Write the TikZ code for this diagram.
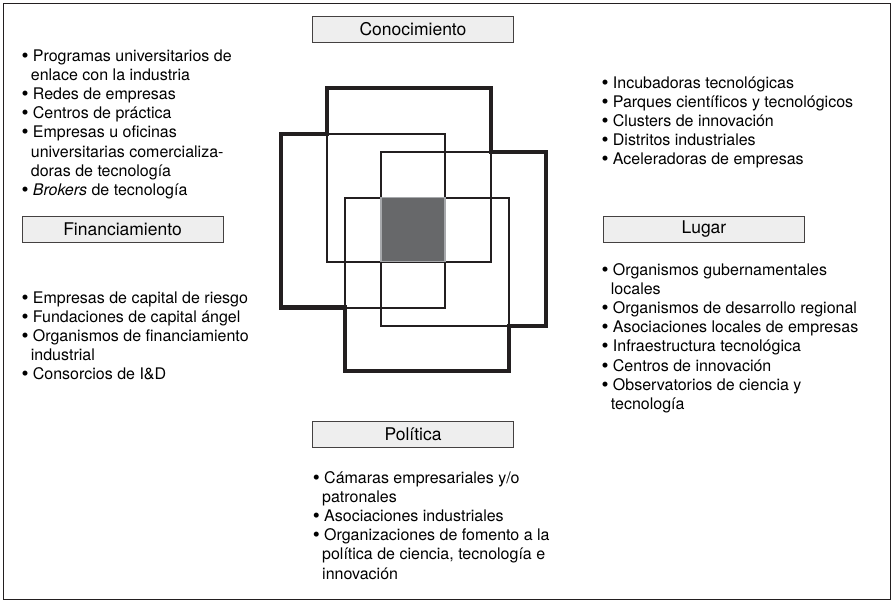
\documentclass[tikz,border=0pt]{standalone}
\usepackage{fontspec}
\setmainfont{TeX Gyre Heros}
\definecolor{ink}{HTML}{231F20}
\definecolor{boxgray}{HTML}{EEEEEE}
\definecolor{coregray}{HTML}{67686A}
\definecolor{coreedge}{HTML}{A7A9AC}
\newcommand\bu{\makebox[10.5pt][l]{\hspace*{-0.8pt}\raisebox{-1.1pt}{\fontsize{20}{20}\selectfont •}}}
\newcommand\ct{\hspace*{8.5pt}}
\tikzset{
  lbl/.style={draw=ink!85, fill=boxgray, line width=0.9pt, minimum width=201pt, minimum height=26pt, inner sep=0pt, font=\fontsize{17.5}{20}\selectfont},
  lst/.style={anchor=base west, align=left, inner sep=0pt, font=\fontsize{16}{19.2}\selectfont},
  thick/.style={draw=ink, line width=4.5pt, line join=miter},
  thin/.style={draw=ink, line width=2pt}
}
\begin{document}
\begin{tikzpicture}[x=1pt,y=-1pt]
\useasboundingbox (0,0) rectangle (894,602);
\draw[ink, line width=0.9pt] (3,3) rectangle (890,599);

% central figure
\draw[thick] (327,88) -- (491,88) -- (491,152) -- (546,152) -- (546,326) -- (509,326) -- (509,371) -- (345,371) -- (345,307.5) -- (281,307.5) -- (281,134) -- (327,134) -- cycle;
\draw[thin] (327,134) rectangle (445,261.5);
\draw[thin] (381,152) rectangle (491,261.5);
\draw[thin] (381,197.5) rectangle (509,326);
\draw[thin] (345,197.5) rectangle (445,307.5);
\draw[fill=coregray, draw=coreedge, line width=1.6pt] (381,197.5) rectangle (445,261.5);

% label boxes
\node[lbl] (conoc) at (413,29) {Conocimiento};
\node[lbl] (finan) at (122.5,229) {Financiamiento};
\node[lbl] (lugar) at (704,229.5) {Lugar};
\node[lbl] (polit) at (413,434) {Política};

% lists (node placed at baseline of the last line)
\node[lst] (lk) at (22.2,195.4) {\bu Programas universitarios de\\
\ct enlace con la industria\\
\bu Redes de empresas\\
\bu Centros de práctica\\
\bu Empresas u oficinas\\
\ct universitarias comercializa-\\
\ct doras de tecnología\\
\bu \textit{Brokers} de tecnología};

\node[lst] (lf) at (22.2,379.8) {\bu Empresas de capital de riesgo\\
\bu Fundaciones de capital ángel\\
\bu Organismos de financiamiento\\
\ct industrial\\
\bu Consorcios de I\&D};

\node[lst] (lr) at (602.2,164.8) {\bu Incubadoras tecnológicas\\
\bu Parques científicos y tecnológicos\\
\bu Clusters de innovación\\
\bu Distritos industriales\\
\bu Aceleradoras de empresas};

\node[lst] (ll) at (602.2,409.4) {\bu Organismos gubernamentales\\
\ct locales\\
\bu Organismos de desarrollo regional\\
\bu Asociaciones locales de empresas\\
\bu Infraestructura tecnológica\\
\bu Centros de innovación\\
\bu Observatorios de ciencia y\\
\ct tecnología};

\node[lst] (lp) at (313.5,579) {\bu Cámaras empresariales y/o\\
\ct patronales\\
\bu Asociaciones industriales\\
\bu Organizaciones de fomento a la\\
\ct política de ciencia, tecnología e\\
\ct innovación};
\end{tikzpicture}
\end{document}
